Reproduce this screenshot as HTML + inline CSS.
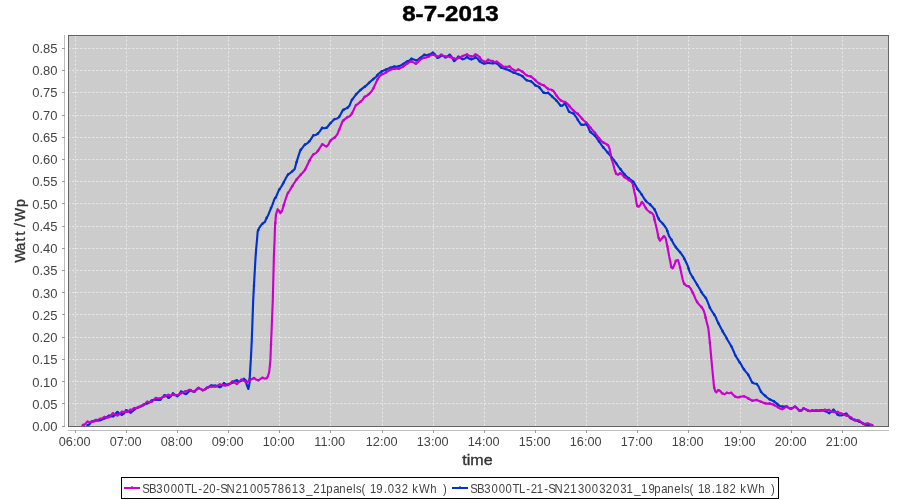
<!DOCTYPE html>
<html><head><meta charset="utf-8"><style>
html,body{margin:0;padding:0;background:#fff;width:900px;height:500px;overflow:hidden}
svg{display:block;will-change:transform}
text{font-family:"Liberation Sans",sans-serif}
</style></head><body>
<svg width="900" height="500" viewBox="0 0 900 500">
<rect x="0" y="0" width="900" height="500" fill="#fff"/>
<text x="402.2" y="21" font-size="22.9" font-weight="bold" fill="#000" stroke="#000" stroke-width="0.5" textLength="96.6" lengthAdjust="spacingAndGlyphs">8-7-2013</text>
<rect x="68" y="35" width="821" height="392" fill="#cccccc"/>
<g stroke="#f4f4f4" stroke-width="1" stroke-dasharray="2 2" fill="none" opacity="0.75">
<line x1="75.5" y1="35.6" x2="75.5" y2="426" /><line x1="126.5" y1="35.6" x2="126.5" y2="426" /><line x1="177.5" y1="35.6" x2="177.5" y2="426" /><line x1="228.5" y1="35.6" x2="228.5" y2="426" /><line x1="279.5" y1="35.6" x2="279.5" y2="426" /><line x1="330.5" y1="35.6" x2="330.5" y2="426" /><line x1="382.5" y1="35.6" x2="382.5" y2="426" /><line x1="433.5" y1="35.6" x2="433.5" y2="426" /><line x1="484.5" y1="35.6" x2="484.5" y2="426" /><line x1="535.5" y1="35.6" x2="535.5" y2="426" /><line x1="586.5" y1="35.6" x2="586.5" y2="426" /><line x1="637.5" y1="35.6" x2="637.5" y2="426" /><line x1="688.5" y1="35.6" x2="688.5" y2="426" /><line x1="740.5" y1="35.6" x2="740.5" y2="426" /><line x1="791.5" y1="35.6" x2="791.5" y2="426" /><line x1="842.5" y1="35.6" x2="842.5" y2="426" /><line x1="68.3" y1="403.5" x2="888" y2="403.5" /><line x1="68.3" y1="381.5" x2="888" y2="381.5" /><line x1="68.3" y1="359.5" x2="888" y2="359.5" /><line x1="68.3" y1="337.5" x2="888" y2="337.5" /><line x1="68.3" y1="314.5" x2="888" y2="314.5" /><line x1="68.3" y1="292.5" x2="888" y2="292.5" /><line x1="68.3" y1="270.5" x2="888" y2="270.5" /><line x1="68.3" y1="248.5" x2="888" y2="248.5" /><line x1="68.3" y1="226.5" x2="888" y2="226.5" /><line x1="68.3" y1="203.5" x2="888" y2="203.5" /><line x1="68.3" y1="181.5" x2="888" y2="181.5" /><line x1="68.3" y1="159.5" x2="888" y2="159.5" /><line x1="68.3" y1="137.5" x2="888" y2="137.5" /><line x1="68.3" y1="115.5" x2="888" y2="115.5" /><line x1="68.3" y1="92.5" x2="888" y2="92.5" /><line x1="68.3" y1="70.5" x2="888" y2="70.5" /><line x1="68.3" y1="48.5" x2="888" y2="48.5" />
</g>
<g fill="none" stroke-width="2.15" stroke-linejoin="round" stroke-linecap="round">
<polyline stroke="#0033cc" points="87.5,425.2 89.2,424.6 91.4,421.8 93.7,421.0 95.9,419.9 98.2,420.7 101.0,419.9 103.8,418.8 106.6,417.1 108.8,415.7 111.0,416.5 113.3,416.2 115.0,414.5 117.2,411.9 119.5,413.6 121.7,414.7 124.0,413.6 126.2,410.2 128.4,411.0 130.7,412.7 132.9,411.0 135.2,408.8 137.4,407.7 139.6,406.8 141.9,405.4 144.1,404.6 146.9,403.5 149.2,402.6 151.4,400.7 153.6,399.8 156.2,399.5 158.2,400.0 160.3,399.8 162.4,397.2 164.5,395.3 166.6,396.1 168.6,397.9 170.7,396.6 172.8,393.5 174.9,394.8 177.2,396.1 179.0,394.8 180.9,391.4 182.7,392.5 184.8,393.8 186.3,394.0 188.4,392.0 190.5,389.9 192.1,391.2 194.2,391.8 196.2,389.9 198.3,387.9 200.4,388.9 202.5,390.2 204.6,389.7 206.6,388.1 208.7,387.0 210.8,385.6 215.0,385.6 219.1,387.1 221.2,386.6 223.8,383.2 225.9,384.5 228.0,384.3 230.2,383.9 232.5,382.5 234.4,381.1 236.7,380.3 238.9,381.7 241.2,380.6 244.0,378.6 245.6,380.6 247.0,385.6 248.4,389.0 249.6,382.8 249.8,376.1 250.8,360.0 251.8,340.0 253.2,300.0 254.4,277.6 255.5,258.0 256.2,248.6 257.0,240.0 257.7,231.4 259.1,228.1 261.3,224.9 263.1,223.1 264.9,222.0 266.0,219.2 268.0,215.6 270.4,209.6 272.4,204.8 274.4,199.2 276.0,197.0 278.9,190.1 281.4,186.5 283.6,182.6 285.7,178.6 287.9,174.6 290.4,172.8 292.6,171.0 294.7,168.9 296.2,163.2 298.1,157.1 300.4,150.2 302.3,148.0 304.5,144.9 307.2,143.4 309.5,141.1 311.4,138.5 313.3,135.4 315.6,135.0 317.5,134.0 319.8,131.4 322.1,127.9 324.7,128.3 327.0,127.6 329.3,124.5 331.6,121.9 334.2,119.2 336.5,118.8 338.8,117.3 340.7,114.3 342.6,110.5 344.9,108.9 347.2,108.0 349.4,105.9 351.6,100.3 353.9,97.3 356.2,94.2 360.0,90.4 363.8,87.4 366.8,85.1 369.1,82.8 372.9,79.4 375.9,77.0 378.4,74.0 381.4,71.6 385.6,69.8 389.8,68.0 394.0,66.5 397.0,66.8 400.0,65.9 403.0,64.1 406.6,61.7 409.0,60.8 411.4,58.7 413.8,59.6 416.6,60.6 419.7,58.3 421.8,56.7 424.1,54.7 426.5,55.4 428.8,54.7 430.9,53.9 432.7,52.6 434.8,54.1 436.4,56.5 437.7,58.0 439.5,57.3 441.0,55.4 443.1,55.7 445.2,57.5 447.3,56.5 449.6,54.7 451.4,56.5 453.5,60.3 454.3,60.9 456.4,59.1 458.2,56.7 460.3,58.0 462.4,59.1 464.7,58.8 466.8,57.0 469.2,58.6 471.5,59.3 473.3,58.8 475.4,57.3 477.5,58.6 479.6,61.2 481.6,62.7 483.7,63.5 485.8,63.5 487.9,62.7 490.0,63.2 493.2,63.2 496.4,62.9 498.3,64.8 500.9,67.4 504.1,68.6 507.3,69.6 509.8,70.6 512.4,72.2 515.0,73.1 517.5,74.1 520.1,75.0 522.6,76.3 524.9,78.9 527.1,80.5 530.8,81.2 533.2,83.2 535.6,85.6 538.8,86.8 540.8,89.2 543.2,92.4 545.6,93.2 548.0,92.8 550.4,94.8 552.8,97.2 555.6,99.6 558.0,102.4 560.4,105.6 562.4,105.8 564.8,103.4 566.8,106.8 568.8,111.6 571.2,112.8 573.6,113.6 576.0,116.8 578.4,120.8 581.2,124.8 584.0,124.8 586.0,123.6 588.0,126.8 590.0,131.6 592.8,134.0 595.2,136.0 596.4,137.6 598.8,141.2 600.8,144.0 602.8,146.8 605.2,149.6 607.6,152.4 610.0,155.2 612.0,158.0 614.4,160.8 616.4,163.6 618.4,166.6 620.8,169.6 623.2,172.8 625.6,175.6 628.4,178.0 631.2,180.0 633.6,182.0 635.6,185.6 637.6,189.2 640.0,192.0 642.0,195.0 644.4,199.0 646.8,202.0 649.6,204.0 652.0,206.4 654.4,209.2 656.0,212.4 657.6,216.8 659.6,220.4 662.0,222.8 664.4,225.6 666.6,229.0 669.2,236.4 671.6,240.0 674.0,244.4 676.4,248.0 678.8,250.8 681.2,253.6 683.6,257.2 685.6,261.2 687.6,265.5 690.0,272.8 692.4,276.8 694.8,280.8 697.2,284.8 699.6,288.8 701.4,292.0 703.2,294.8 705.6,297.6 707.2,300.8 708.8,304.8 710.0,308.0 712.0,311.2 714.0,314.4 715.6,316.8 717.2,320.8 718.8,324.0 720.6,327.4 722.8,331.6 725.2,335.6 727.6,340.0 730.0,344.0 732.0,347.6 733.6,351.2 735.2,355.2 737.2,358.4 739.2,361.6 740.9,364.0 742.8,367.7 745.1,370.9 747.8,374.1 750.1,378.3 752.0,382.4 754.3,383.5 756.6,383.8 758.4,386.1 759.8,389.3 761.2,392.1 763.5,394.4 766.2,396.7 769.0,399.0 771.7,400.3 774.0,401.3 776.3,403.1 778.4,405.1 780.4,406.3 782.7,406.6 784.9,406.6 786.6,406.6 788.8,407.9 791.0,408.8 793.2,407.7 794.9,406.6 797.1,408.2 799.1,410.4 801.3,410.7 803.5,408.5 805.7,409.3 807.9,410.6 810.2,411.2 812.1,410.5 814.3,410.9 816.3,410.4 818.5,410.9 820.4,410.4 822.0,410.1 824.4,410.7 826.8,411.9 829.2,413.1 831.0,411.9 833.4,409.8 835.2,411.3 837.3,414.3 839.4,415.5 841.8,415.2 844.2,414.3 846.0,413.7 847.8,415.2 850.2,417.9 852.6,419.4 855.0,420.0 857.4,420.9 859.8,421.8 862.2,423.0 864.6,424.5 867.0,425.1 869.4,425.1"/>
<polyline stroke="#cc00cc" points="82.5,425.2 84.7,424.6 87.2,421.6 89.2,422.4 91.4,421.6 93.7,421.8 95.9,420.7 97.9,419.9 100.1,418.8 102.1,418.5 104.3,416.8 106.6,417.9 108.5,417.4 110.8,415.4 112.7,413.2 115.0,414.6 117.2,415.5 119.5,414.4 121.7,411.9 124.0,411.9 126.2,411.6 128.4,411.9 130.1,409.9 131.8,409.9 134.0,408.0 136.3,408.0 138.5,407.1 140.8,406.8 143.0,405.4 145.2,404.0 146.9,401.8 149.2,402.4 151.4,401.8 153.6,400.4 155.6,397.9 157.7,398.2 159.8,398.5 161.9,397.7 164.0,396.6 166.0,395.9 168.1,394.8 170.2,395.9 172.3,394.6 174.4,395.3 176.4,395.1 178.5,394.8 180.6,393.5 182.7,392.7 184.8,391.4 186.8,391.2 188.9,389.9 190.5,390.1 192.1,391.2 194.2,391.8 196.2,389.9 198.3,387.9 200.4,388.9 202.5,390.2 204.6,389.7 206.6,388.1 208.7,387.3 210.8,386.6 212.9,386.6 215.0,386.6 217.0,386.0 219.1,384.5 221.2,384.7 223.3,385.0 225.4,385.8 227.4,385.3 230.2,383.4 232.5,381.4 234.7,382.8 237.0,383.9 239.2,382.0 241.2,379.7 243.1,380.6 245.4,381.4 247.3,382.2 249.3,380.0 251.5,379.4 253.8,378.0 256.0,379.4 258.2,380.3 260.5,378.9 262.2,377.8 264.4,378.6 266.6,378.3 267.8,376.6 269.2,372.0 270.4,360.0 271.2,340.0 272.0,320.0 272.8,300.0 273.9,256.0 274.6,240.0 275.0,226.3 276.0,214.4 277.6,209.2 279.2,210.8 280.4,213.2 282.0,211.2 283.6,205.6 285.2,200.5 287.5,193.7 289.7,190.5 291.8,186.9 294.0,183.3 296.2,180.0 298.3,177.5 300.5,175.0 302.6,172.8 304.8,170.3 306.8,166.2 309.1,161.3 311.0,157.8 313.3,154.4 316.3,152.9 318.6,149.9 320.5,146.8 322.4,144.2 324.7,145.7 326.6,146.4 328.5,144.5 330.0,141.3 332.3,139.0 335.0,137.4 337.3,134.4 338.8,130.6 340.7,126.0 342.6,121.1 344.9,119.2 347.2,117.3 349.4,116.5 351.5,114.2 353.9,109.4 355.8,105.3 357.7,104.1 360.0,102.2 362.2,100.3 364.5,96.9 366.8,95.8 369.1,93.9 371.4,91.6 373.3,88.5 375.2,84.4 377.1,80.2 379.0,77.2 381.4,74.6 384.4,73.4 387.4,71.6 390.4,69.8 393.4,68.9 396.4,68.6 399.4,68.6 401.8,67.4 404.2,65.9 407.2,63.5 409.6,62.0 411.7,61.4 413.8,62.6 416.1,63.8 418.2,62.0 420.2,59.6 422.3,58.6 424.4,57.8 426.5,57.5 428.6,56.5 430.6,55.4 432.7,54.7 434.8,55.4 436.9,56.5 439.0,56.2 441.0,54.7 443.1,55.7 445.2,56.5 447.3,56.7 449.4,56.7 451.4,57.5 454.1,58.6 456.2,58.8 458.2,58.0 460.3,57.5 462.4,56.2 464.7,55.2 466.8,54.4 469.2,55.7 471.5,56.5 473.3,56.2 475.4,54.4 477.5,55.2 479.6,57.3 481.6,59.9 483.7,61.4 485.8,61.9 487.9,59.6 490.0,60.6 492.6,61.0 494.5,62.2 496.7,61.6 499.0,63.2 501.2,65.1 503.4,66.7 506.6,67.0 509.5,66.4 511.4,68.3 513.7,69.9 515.9,70.9 518.2,69.6 520.4,70.6 522.6,71.8 524.9,74.1 527.4,75.7 530.8,76.4 533.2,78.4 535.6,80.4 538.0,82.8 540.8,84.4 543.6,85.2 546.0,87.2 548.4,89.2 551.2,89.6 553.6,91.2 556.0,94.8 558.4,98.0 560.8,100.4 563.2,101.6 565.2,102.0 568.0,104.4 570.4,107.2 572.8,110.0 575.6,112.4 578.0,114.0 580.4,116.8 583.2,120.0 585.6,122.0 588.0,124.4 590.4,127.6 592.8,130.4 595.2,133.2 598.8,138.0 601.2,140.8 603.6,142.8 606.4,144.0 608.4,145.6 609.6,148.8 610.4,152.8 611.2,156.8 612.0,160.0 613.2,164.0 614.4,168.8 616.0,173.6 618.0,174.8 620.0,173.2 622.0,174.4 624.0,176.8 626.4,178.4 628.8,180.0 631.2,181.6 632.8,184.0 633.6,188.0 634.4,192.0 635.6,196.8 636.4,202.4 637.2,206.0 638.8,206.8 640.4,204.8 642.0,202.0 643.6,204.0 645.2,207.2 647.2,210.0 649.6,212.0 652.0,213.2 653.6,215.2 654.4,219.2 655.6,224.0 657.2,230.8 658.4,237.2 660.0,240.8 662.0,238.4 664.0,236.0 665.6,238.0 666.8,243.6 668.0,250.0 669.2,256.4 670.4,262.0 671.2,267.0 672.8,268.4 674.4,264.8 676.0,260.5 678.0,260.0 679.2,264.0 680.4,268.8 681.6,274.4 682.8,280.0 684.0,283.6 686.0,285.6 688.8,286.4 690.8,288.8 692.4,292.0 694.0,295.2 695.6,299.2 697.6,302.8 700.0,305.6 702.0,307.6 703.6,310.4 704.8,314.0 705.6,317.6 706.8,322.4 708.3,328.0 709.2,336.0 710.2,345.6 710.9,353.6 711.6,361.6 712.4,370.0 713.2,378.0 714.0,386.8 715.2,391.2 716.4,392.4 718.0,390.0 720.0,390.8 722.0,393.2 724.4,394.4 726.8,392.8 729.2,393.2 731.2,392.8 733.2,394.8 735.6,396.8 738.0,397.6 740.4,396.8 743.7,396.2 746.9,397.6 749.2,399.0 752.4,400.8 756.6,399.9 759.8,401.3 763.0,402.6 766.7,403.6 769.9,403.6 773.1,404.5 776.4,406.4 778.2,407.4 780.4,408.8 782.7,409.1 784.6,407.9 786.6,406.6 788.8,407.9 791.0,408.8 793.2,407.7 794.9,406.6 797.1,408.2 799.1,410.4 801.3,410.7 803.5,408.5 805.7,409.3 807.9,410.4 810.2,411.0 812.1,410.2 814.3,410.7 816.3,410.2 818.5,410.7 820.4,410.2 822.7,410.5 824.7,409.8 826.8,410.4 828.9,409.8 831.0,411.3 833.4,411.9 835.5,412.5 837.6,411.9 840.0,413.1 842.4,414.0 844.8,414.9 847.2,415.8 849.6,416.7 851.4,417.6 853.2,419.4 855.6,420.6 858.0,420.0 859.8,421.2 861.6,422.4 864.0,424.2 866.4,423.6 868.2,423.6 870.6,424.5 872.7,425.4"/>
</g>
<g fill="none" stroke-width="2.6" stroke-linecap="round">
<path stroke="#0033cc" d="M87.8 425.1h0M92.0 421.6h0M96.3 420.0h0M100.6 420.0h0M104.8 418.2h0M109.1 415.8h0M113.3 416.2h0M117.6 412.2h0M121.9 414.6h0M126.1 410.3h0M130.4 412.5h0M134.7 409.3h0M138.9 407.1h0M143.2 404.9h0M147.4 403.3h0M151.7 400.6h0M156.0 399.5h0M160.2 399.8h0M164.5 395.3h0M168.7 397.8h0M173.0 393.6h0M177.3 396.1h0M181.5 391.8h0M185.8 393.9h0M190.0 390.4h0M194.3 391.7h0M198.6 388.0h0M202.8 390.1h0M207.1 387.8h0M211.4 385.6h0M215.6 385.8h0M219.9 386.9h0M224.1 383.4h0M228.4 384.2h0M232.7 382.4h0M236.9 380.4h0M241.2 380.6h0M245.4 380.4h0M249.7 379.3h0M254.0 285.7h0M258.2 230.2h0M262.5 223.7h0M266.7 217.9h0M271.0 208.1h0M275.3 198.0h0M279.5 189.2h0M283.8 182.2h0M288.1 174.5h0M292.3 171.2h0M296.6 162.0h0M300.8 149.7h0M305.1 144.6h0M309.4 141.2h0M313.6 135.3h0M317.9 133.6h0M322.1 127.9h0M326.4 127.8h0M330.7 123.0h0M334.9 119.1h0M339.2 116.7h0M343.4 109.9h0M347.7 107.5h0M352.0 99.8h0M356.2 94.2h0M360.5 90.0h0M364.8 86.7h0M369.0 82.9h0M373.3 79.1h0M377.5 75.0h0M381.8 71.4h0M386.1 69.6h0M390.3 67.8h0M394.6 66.6h0M398.8 66.2h0M403.1 64.0h0M407.4 61.4h0M411.6 58.8h0M415.9 60.3h0M420.1 58.0h0M424.4 54.8h0M428.7 54.7h0M432.9 52.8h0M437.2 57.4h0M441.5 55.5h0M445.7 57.3h0M450.0 55.1h0M454.2 60.9h0M458.5 56.9h0M462.8 59.1h0M467.0 57.1h0M471.3 59.2h0M475.5 57.4h0M479.8 61.4h0M484.1 63.5h0M488.3 62.8h0M492.6 63.2h0M496.8 63.3h0M501.1 67.5h0M505.4 69.0h0M509.6 70.5h0M513.9 72.7h0M518.2 74.3h0M522.4 76.2h0M526.7 80.2h0M530.9 81.3h0M535.2 85.2h0M539.5 87.6h0M543.7 92.6h0M548.0 92.8h0M552.2 96.6h0M556.5 100.7h0M560.8 105.6h0M565.0 103.8h0M569.3 111.8h0M573.5 113.6h0M577.8 119.8h0M582.1 124.8h0M586.3 124.1h0M590.6 132.1h0M594.9 135.7h0M599.1 141.6h0M603.4 147.5h0M607.6 152.4h0M611.9 157.9h0M616.2 163.3h0M620.4 169.1h0M624.7 174.5h0M628.9 178.4h0M633.2 181.7h0M637.5 189.0h0M641.7 194.6h0M646.0 201.0h0M650.2 204.6h0M654.5 209.4h0M658.8 218.9h0M663.0 224.0h0M667.3 231.0h0M671.6 239.9h0M675.8 247.1h0M680.1 252.3h0M684.3 258.7h0M688.6 268.5h0M692.9 277.6h0M697.1 284.7h0M701.4 292.0h0M705.6 297.7h0M709.9 307.7h0M714.2 314.6h0M718.4 323.3h0M722.7 331.4h0M726.9 338.8h0M731.2 346.2h0M735.5 355.6h0M739.7 362.4h0M744.0 369.4h0M748.3 374.9h0M752.5 382.6h0M756.8 384.0h0M761.0 391.8h0M765.3 395.9h0M769.6 399.3h0M773.8 401.2h0M778.1 404.8h0M782.3 406.6h0M786.6 406.6h0M790.9 408.7h0M795.1 406.8h0M799.4 410.4h0M803.6 408.6h0M807.9 410.6h0M812.2 410.5h0M816.4 410.4h0M820.7 410.3h0M825.0 411.0h0M829.2 413.1h0M833.5 409.9h0M837.7 414.6h0M842.0 415.1h0M846.3 413.9h0M850.5 418.1h0M854.8 419.9h0M859.0 421.5h0M863.3 423.7h0M867.6 425.1h0"/>
<path stroke="#cc00cc" d="M83.5 424.9h0M87.8 421.8h0M92.0 421.7h0M96.3 420.5h0M100.6 418.7h0M104.8 417.1h0M109.1 416.9h0M113.3 413.6h0M117.6 415.3h0M121.9 411.9h0M126.1 411.6h0M130.4 409.9h0M134.7 408.0h0M138.9 407.0h0M143.2 405.3h0M147.4 401.9h0M151.7 401.6h0M156.0 398.0h0M160.2 398.3h0M164.5 396.4h0M168.7 395.1h0M173.0 394.8h0M177.3 395.0h0M181.5 393.1h0M185.8 391.3h0M190.0 390.0h0M194.3 391.7h0M198.6 388.0h0M202.8 390.1h0M207.1 387.9h0M211.4 386.6h0M215.6 386.4h0M219.9 384.6h0M224.1 385.3h0M228.4 384.6h0M232.7 381.5h0M236.9 383.9h0M241.2 379.7h0M245.4 381.4h0M249.7 379.9h0M254.0 378.1h0M258.2 380.3h0M262.5 377.9h0M266.7 378.1h0M271.0 344.7h0M275.3 223.1h0M279.5 211.5h0M283.8 205.0h0M288.1 192.9h0M292.3 186.1h0M296.6 179.6h0M300.8 174.6h0M305.1 169.7h0M309.4 160.8h0M313.6 154.2h0M317.9 150.8h0M322.1 144.5h0M326.4 146.3h0M330.7 140.6h0M334.9 137.4h0M339.2 129.7h0M343.4 120.4h0M347.7 117.1h0M352.0 113.3h0M356.2 105.0h0M360.5 101.8h0M364.8 96.8h0M369.0 94.0h0M373.3 88.5h0M377.5 79.5h0M381.8 74.4h0M386.1 72.4h0M390.3 69.8h0M394.6 68.8h0M398.8 68.6h0M403.1 66.6h0M407.4 63.4h0M411.6 61.4h0M415.9 63.7h0M420.1 59.7h0M424.4 57.8h0M428.7 56.5h0M432.9 54.8h0M437.2 56.5h0M441.5 54.9h0M445.7 56.5h0M450.0 56.9h0M454.2 58.6h0M458.5 57.9h0M462.8 56.0h0M467.0 54.5h0M471.3 56.4h0M475.5 54.5h0M479.8 57.6h0M484.1 61.5h0M488.3 59.8h0M492.6 61.0h0M496.8 61.7h0M501.1 65.0h0M505.4 66.9h0M509.6 66.5h0M513.9 70.0h0M518.2 69.6h0M522.4 71.7h0M526.7 75.2h0M530.9 76.5h0M535.2 80.1h0M539.5 83.6h0M543.7 85.3h0M548.0 88.9h0M552.2 90.3h0M556.5 95.5h0M560.8 100.4h0M565.0 102.0h0M569.3 105.9h0M573.5 110.6h0M577.8 113.9h0M582.1 118.7h0M586.3 122.7h0M590.6 127.8h0M594.9 132.8h0M599.1 138.4h0M603.4 142.6h0M607.6 145.0h0M611.9 159.6h0M616.2 173.7h0M620.4 173.5h0M624.7 177.3h0M628.9 180.1h0M633.2 186.0h0M637.5 206.1h0M641.7 202.5h0M646.0 208.3h0M650.2 212.3h0M654.5 219.6h0M658.8 238.0h0M663.0 237.2h0M667.3 246.2h0M671.6 267.3h0M675.8 261.0h0M680.1 267.5h0M684.3 283.9h0M688.6 286.3h0M692.9 292.9h0M697.1 301.9h0M701.4 307.0h0M705.6 317.8h0M709.9 342.8h0M714.2 387.4h0M718.4 390.2h0M722.7 393.5h0M726.9 392.8h0M731.2 392.8h0M735.5 396.7h0M739.7 397.0h0M744.0 396.3h0M748.3 398.4h0M752.5 400.8h0M756.8 400.0h0M761.0 401.8h0M765.3 403.2h0M769.6 403.6h0M773.8 404.9h0M778.1 407.3h0M782.3 409.1h0M786.6 406.6h0M790.9 408.7h0M795.1 406.8h0M799.4 410.4h0M803.6 408.6h0M807.9 410.4h0M812.2 410.2h0M816.4 410.2h0M820.7 410.2h0M825.0 409.9h0M829.2 410.0h0M833.5 411.9h0M837.7 412.0h0M842.0 413.8h0M846.3 415.4h0M850.5 417.2h0M854.8 420.2h0M859.0 420.7h0M863.3 423.7h0M867.6 423.6h0M871.8 425.0h0"/>
</g>
<rect x="68.5" y="35.5" width="820" height="391" fill="none" stroke="#666" stroke-width="1"/>
<g stroke="#bdbdbd" stroke-width="1" fill="none">
<line x1="64.5" y1="35" x2="64.5" y2="427"/>
<line x1="68" y1="430.5" x2="889" y2="430.5"/>
</g>
<g stroke="#9a9a9a" stroke-width="1" fill="none">
<line x1="75.5" y1="430" x2="75.5" y2="433" /><line x1="126.5" y1="430" x2="126.5" y2="433" /><line x1="177.5" y1="430" x2="177.5" y2="433" /><line x1="228.5" y1="430" x2="228.5" y2="433" /><line x1="279.5" y1="430" x2="279.5" y2="433" /><line x1="330.5" y1="430" x2="330.5" y2="433" /><line x1="382.5" y1="430" x2="382.5" y2="433" /><line x1="433.5" y1="430" x2="433.5" y2="433" /><line x1="484.5" y1="430" x2="484.5" y2="433" /><line x1="535.5" y1="430" x2="535.5" y2="433" /><line x1="586.5" y1="430" x2="586.5" y2="433" /><line x1="637.5" y1="430" x2="637.5" y2="433" /><line x1="688.5" y1="430" x2="688.5" y2="433" /><line x1="740.5" y1="430" x2="740.5" y2="433" /><line x1="791.5" y1="430" x2="791.5" y2="433" /><line x1="842.5" y1="430" x2="842.5" y2="433" /><line x1="62" y1="426.5" x2="65" y2="426.5" /><line x1="62" y1="403.5" x2="65" y2="403.5" /><line x1="62" y1="381.5" x2="65" y2="381.5" /><line x1="62" y1="359.5" x2="65" y2="359.5" /><line x1="62" y1="337.5" x2="65" y2="337.5" /><line x1="62" y1="314.5" x2="65" y2="314.5" /><line x1="62" y1="292.5" x2="65" y2="292.5" /><line x1="62" y1="270.5" x2="65" y2="270.5" /><line x1="62" y1="248.5" x2="65" y2="248.5" /><line x1="62" y1="226.5" x2="65" y2="226.5" /><line x1="62" y1="203.5" x2="65" y2="203.5" /><line x1="62" y1="181.5" x2="65" y2="181.5" /><line x1="62" y1="159.5" x2="65" y2="159.5" /><line x1="62" y1="137.5" x2="65" y2="137.5" /><line x1="62" y1="115.5" x2="65" y2="115.5" /><line x1="62" y1="92.5" x2="65" y2="92.5" /><line x1="62" y1="70.5" x2="65" y2="70.5" /><line x1="62" y1="48.5" x2="65" y2="48.5" />
</g>
<g font-size="13" fill="#444" text-anchor="end">
<text x="57.6" y="431.00">0.00</text><text x="57.6" y="408.76">0.05</text><text x="57.6" y="386.53">0.10</text><text x="57.6" y="364.30">0.15</text><text x="57.6" y="342.06">0.20</text><text x="57.6" y="319.82">0.25</text><text x="57.6" y="297.59">0.30</text><text x="57.6" y="275.36">0.35</text><text x="57.6" y="253.12">0.40</text><text x="57.6" y="230.88">0.45</text><text x="57.6" y="208.65">0.50</text><text x="57.6" y="186.42">0.55</text><text x="57.6" y="164.18">0.60</text><text x="57.6" y="141.94">0.65</text><text x="57.6" y="119.71">0.70</text><text x="57.6" y="97.48">0.75</text><text x="57.6" y="75.24">0.80</text><text x="57.6" y="53.00">0.85</text>
</g>
<g font-size="12.7" fill="#444" text-anchor="middle">
<text x="74.7" y="446">06:00</text><text x="125.7" y="446">07:00</text><text x="176.7" y="446">08:00</text><text x="227.7" y="446">09:00</text><text x="278.7" y="446">10:00</text><text x="329.7" y="446">11:00</text><text x="381.7" y="446">12:00</text><text x="432.7" y="446">13:00</text><text x="483.7" y="446">14:00</text><text x="534.7" y="446">15:00</text><text x="585.7" y="446">16:00</text><text x="636.7" y="446">17:00</text><text x="687.7" y="446">18:00</text><text x="739.7" y="446">19:00</text><text x="790.7" y="446">20:00</text><text x="841.7" y="446">21:00</text>
</g>
<text x="462.3" y="465" font-size="15" fill="#333" stroke="#333" stroke-width="0.35" textLength="30.4" lengthAdjust="spacingAndGlyphs">time</text>
<text transform="translate(25 262) rotate(-90)" x="-0.51 11.61 20.50 26.55 35.11 40.84 55.10" font-size="14.0" fill="#333" stroke="#333" stroke-width="0.35">Watt/Wp</text>
<rect x="121.5" y="477.5" width="657" height="21" fill="#fff" stroke="#000" stroke-width="1"/>
<line x1="124" y1="488" x2="140" y2="488" stroke="#cc00cc" stroke-width="2"/><rect x="131" y="486" width="2" height="2.6" fill="#cc00cc" opacity="0.6"/>
<text transform="scale(0.9 1)" x="158.09 165.63 173.63 181.73 189.84 197.29 204.94 212.30 220.33 225.26 232.51 240.22 244.65 251.74 261.59 269.26 277.73 285.17 293.16 301.13 308.56 316.47 324.26 332.08 340.19 348.03 355.71 362.52 370.30 376.94 384.74 392.21 395.48 401.72 406.16 411.04 417.96 426.52 430.95 438.74 446.26 450.70 458.04 465.50 478.02 482.46 492.15" y="492.7" font-size="12.6" fill="#444">SB3000TL-20-SN2100578613_21panels( 19.032 kWh )</text>
<line x1="452" y1="488" x2="468" y2="488" stroke="#0033cc" stroke-width="2"/><rect x="459" y="486" width="2" height="2.6" fill="#0033cc" opacity="0.6"/>
<text transform="scale(0.9 1)" x="522.54 530.08 538.08 546.17 554.29 561.73 569.38 576.74 584.77 589.70 596.48 604.66 609.09 616.19 626.03 633.71 642.19 649.62 657.62 665.74 672.92 681.06 689.19 696.04 704.64 712.15 720.52 726.97 734.74 741.39 749.19 756.65 759.93 766.16 770.61 775.48 782.45 790.96 794.93 803.12 810.70 815.14 822.48 829.94 842.46 846.90 856.59" y="492.7" font-size="12.6" fill="#444">SB3000TL-21-SN2130032031_19panels( 18.182 kWh )</text>
</svg>
</body></html>
